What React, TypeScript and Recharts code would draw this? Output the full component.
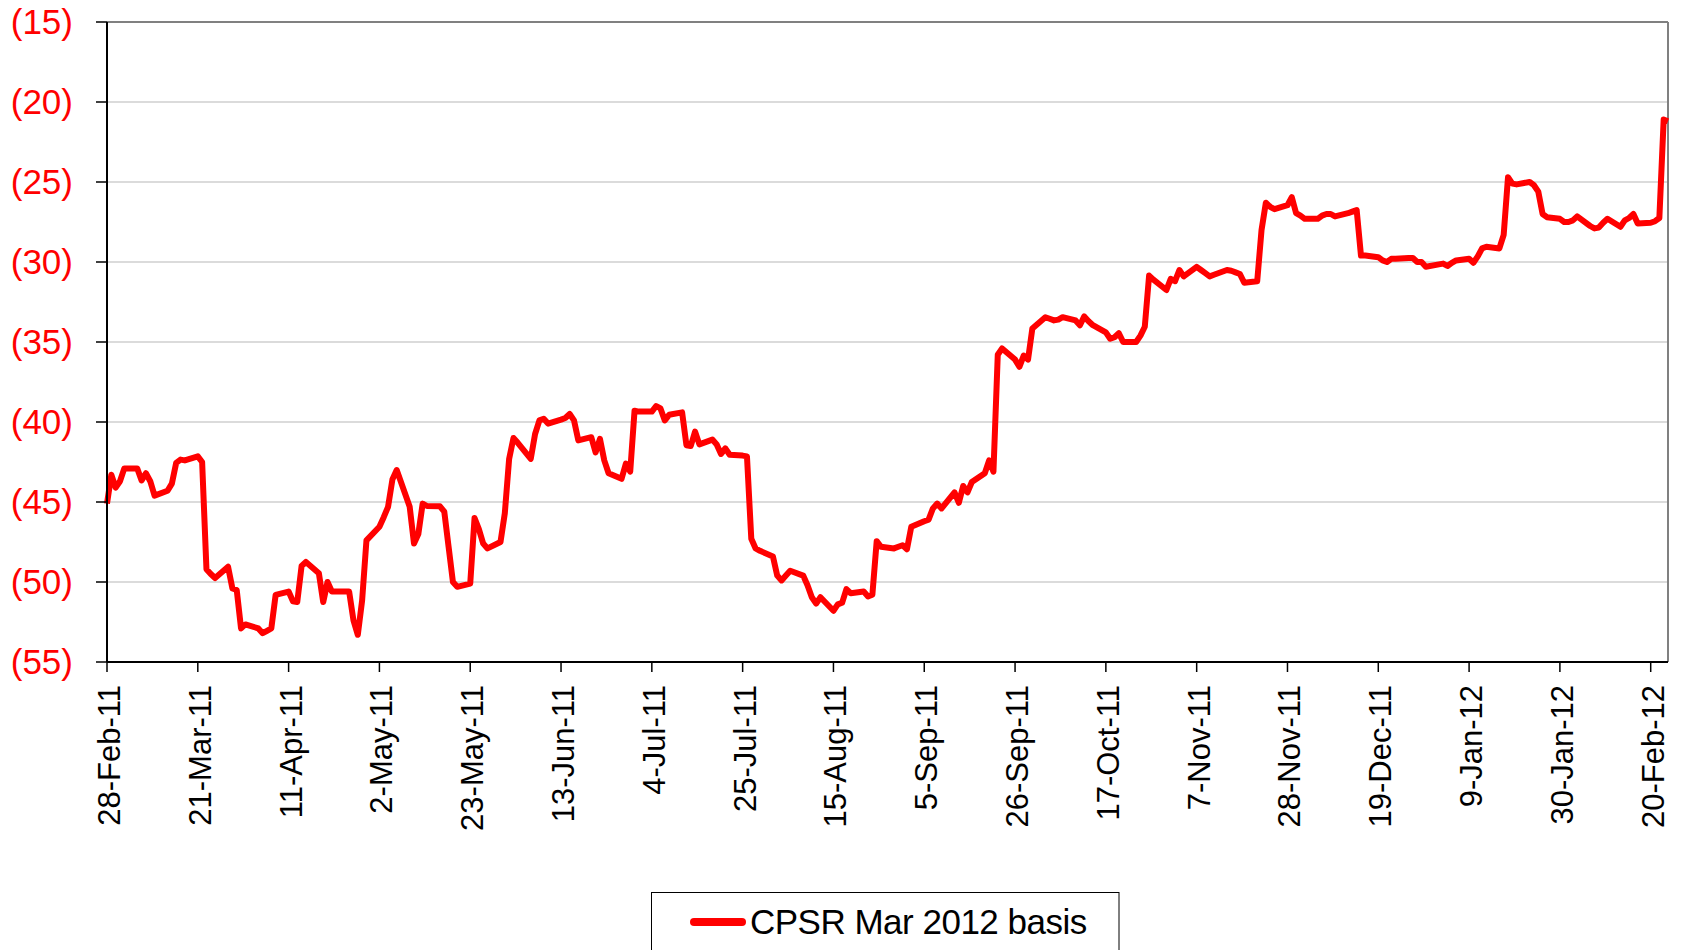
import { LineChart, Line, XAxis, YAxis, CartesianGrid, ReferenceLine, Legend } from 'recharts';

const FONT = '"Liberation Sans", Arial, sans-serif';

// first trading day of the series, weekdays only
const startDate = Date.UTC(2011, 1, 28);

// CPSR Mar 2012 basis, one value per weekday (Mon..Fri), 28-Feb-11 to 24-Feb-12
const basis: number[] = [
  -45.1, -43.3, -44.1, -43.7, -42.9,
  -42.9, -43.65, -43.2, -43.7, -44.6,
  -44.3, -43.85, -42.55, -42.35, -42.4,
  -42.15, -42.5, -49.2, -49.5, -49.75,
  -49.05, -50.4, -50.5, -52.9, -52.65,
  -52.9, -53.2, -53.05, -52.9, -50.8,
  -50.6, -51.2, -51.25, -49.0, -48.75,
  -49.45, -51.25, -50.0, -50.6, -50.6,
  -50.6, -52.4, -53.3, -51.15, -47.4,
  -46.55, -45.95, -45.3, -43.6, -43.0,
  -45.3, -47.6, -47.0, -45.1, -45.25,
  -45.27, -45.6, -47.8, -50.0, -50.3,
  -50.1, -46.0, -46.7, -47.6, -47.9,
  -47.5, -45.7, -42.3, -41.0, -41.3,
  -42.3, -40.75, -39.9, -39.8, -40.1,
  -39.85, -39.75, -39.5, -39.9, -41.15,
  -40.95, -41.9, -41.05, -42.4, -43.2,
  -43.55, -42.6, -43.1, -39.3, -39.35,
  -39.35, -39.0, -39.15, -39.9, -39.55,
  -39.4, -41.45, -41.5, -40.6, -41.4,
  -41.1, -41.4, -42.0, -41.65, -42.05,
  -42.1, -42.15, -47.3, -47.9, -48.05,
  -48.4, -49.6, -49.9, -49.6, -49.3,
  -49.6, -50.2, -50.95, -51.35, -50.95,
  -51.8, -51.4, -51.3, -50.45, -50.7,
  -50.6, -50.9, -50.8, -47.45, -47.8,
  -47.9, -47.8, -47.7, -47.95, -46.55,
  -46.2, -46.1, -45.4, -45.1, -45.4,
  -44.4, -45.05, -44.0, -44.4, -43.75,
  -43.2, -42.4, -43.1, -35.8, -35.4,
  -36.1, -36.55, -35.85, -36.1, -34.15,
  -33.45, -33.55, -33.65, -33.6, -33.45,
  -33.65, -33.95, -33.4, -33.7, -33.95,
  -34.4, -34.8, -34.7, -34.45, -35.0,
  -35.0, -34.6, -34.05, -30.85, -31.1,
  -31.75, -31.05, -31.2, -30.5, -30.9,
  -30.3, -30.5, -30.7, -30.9, -30.8,
  -30.5, -30.55, -30.65, -30.75, -31.3,
  -31.2, -28.0, -26.3, -26.55, -26.7,
  -26.45, -25.95, -26.95, -27.1, -27.3,
  -27.3, -27.1, -27.0, -27.0, -27.15,
  -26.95, -26.85, -26.75, -29.6, -29.6,
  -29.7, -29.9, -30.0, -29.8, -29.8,
  -29.75, -29.75, -30.0, -30.0, -30.3,
  -30.15, -30.1, -30.25, -30.05, -29.9,
  -29.8, -30.05, -29.65, -29.15, -29.05,
  -29.15, -28.3, -24.7, -25.1, -25.15,
  -25.0, -25.2, -25.6, -27.0, -27.2,
  -27.3, -27.5, -27.5, -27.4, -27.15,
  -27.75, -27.9, -27.85, -27.55, -27.3,
  -27.8, -27.4, -27.25, -27.0, -27.6,
  -27.55, -27.45, -27.25, -21.1, -21.2,
];

const xTickLabels = [
  '28-Feb-11', '21-Mar-11', '11-Apr-11', '2-May-11', '23-May-11', '13-Jun-11',
  '4-Jul-11', '25-Jul-11', '15-Aug-11', '5-Sep-11', '26-Sep-11', '17-Oct-11',
  '7-Nov-11', '28-Nov-11', '19-Dec-11', '9-Jan-12', '30-Jan-12', '20-Feb-12',
];
const xTicks = xTickLabels.map((_, i) => i * 21); // days since start, every 3 weeks
const yTicks = [-55, -50, -45, -40, -35, -30, -25, -20, -15];

const DAY = 86400000;

// weekday offsets (in calendar days) from the start date
const buildData = () => {
  const rows: { t: number; basis: number }[] = [];
  let d = 0;
  while (rows.length < basis.length) {
    const wd = new Date(startDate + d * DAY).getUTCDay();
    if (wd !== 0 && wd !== 6) rows.push({ t: d, basis: basis[rows.length] });
    d += 1;
  }
  return rows;
};

const data = buildData();
const lastDay = data[data.length - 1].t;

const XTick = ({ x, y, payload }: any) => {
  const idx = xTicks.indexOf(payload.value);
  return (
    <text
      transform={`translate(${x},${y}) rotate(-90)`}
      x={0}
      y={13}
      textAnchor="end"
      fill="#000"
      fontSize={31}
      fontFamily={FONT}
    >
      {xTickLabels[idx]}
    </text>
  );
};

const LegendBox = () => (
  <svg width={1681} height={58} style={{ display: 'block' }}>
    <rect x={651.5} y={0.5} width={467.5} height={90} fill="#fff" stroke="#000" strokeWidth={1} />
    <line x1={694} y1={30} x2={742} y2={30} stroke="#FF0000" strokeWidth={8} strokeLinecap="round" />
    <text x={750} y={42} fontSize={35} fontFamily={FONT} fill="#000" letterSpacing={-0.5}>
      CPSR Mar 2012 basis
    </text>
  </svg>
);

export default function App() {
  return (
    <div style={{ position: 'absolute', left: 0, top: 0, background: '#fff', fontFamily: FONT }}>
      <LineChart width={1681} height={950} data={data} margin={{ top: 22, right: 13, bottom: 0, left: 0 }}>
        <CartesianGrid vertical={false} stroke="#cfcfcf" strokeWidth={1.5} />
        <ReferenceLine y={-15} stroke="#808080" strokeWidth={2} />
        <ReferenceLine x={lastDay} stroke="#808080" strokeWidth={2} />
        <XAxis
          type="number"
          dataKey="t"
          domain={[0, lastDay]}
          ticks={xTicks}
          interval={0}
          height={230}
          tickSize={10}
          tickMargin={13}
          tick={<XTick />}
          axisLine={{ stroke: '#000', strokeWidth: 2 }}
          tickLine={{ stroke: '#000', strokeWidth: 1.5 }}
        />
        <YAxis
          domain={[-55, -15]}
          ticks={yTicks}
          interval={0}
          width={107}
          tickSize={11}
          tickMargin={23}
          tickFormatter={(v: number) => `(${Math.abs(v)})`}
          tick={{ fill: '#FF0000', fontSize: 35, fontFamily: FONT }}
          axisLine={{ stroke: '#000', strokeWidth: 2 }}
          tickLine={{ stroke: '#000', strokeWidth: 1.5 }}
        />
        <Legend verticalAlign="bottom" align="left" content={() => <LegendBox />} wrapperStyle={{ left: 0, width: 1681, height: 58 }} />
        <Line
          type="linear"
          dataKey="basis"
          stroke="#FF0000"
          strokeWidth={6}
          strokeLinejoin="round"
          dot={false}
          isAnimationActive={false}
        />
      </LineChart>
    </div>
  );
}
